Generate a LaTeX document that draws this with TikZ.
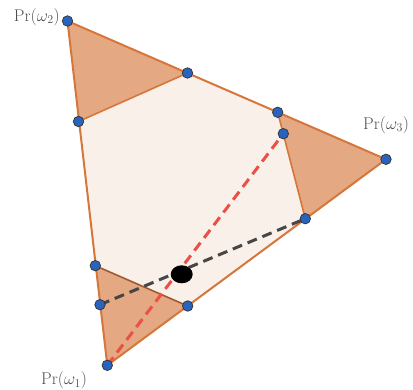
\documentclass[tikz,border=0pt]{standalone}
\usetikzlibrary{calc}
\definecolor{edgeor}{RGB}{214,118,58}
\definecolor{edgedk}{RGB}{160,90,50}
\definecolor{trifill}{RGB}{228,168,130}
\definecolor{hexfill}{RGB}{249,240,234}
\definecolor{dotblue}{RGB}{40,100,190}
\definecolor{reddash}{RGB}{235,80,70}
\definecolor{blackdash}{RGB}{70,70,70}
\definecolor{labgray}{RGB}{80,80,80}
\tikzset{
  pt/.style={circle,fill=dotblue,draw=black!80,line width=0.7pt,minimum size=10.5pt,inner sep=0pt},
  outeredge/.style={draw=edgeor,line width=2pt,line join=round},
  inneredge/.style={draw=edgeor,line width=1.6pt},
  dashline/.style={line width=3pt,dash pattern=on 10pt off 6pt},
  lab/.style={text=labgray,font=\fontsize{17}{20}\selectfont,inner sep=0pt}
}
\begin{document}
\begin{tikzpicture}[x=1pt,y=-1pt]
\useasboundingbox (0,0) rectangle (413,390);
% points
\coordinate (V1) at (107.3,365.3);
\coordinate (V2) at (67.5,21);
\coordinate (V3) at (386,159.3);
\coordinate (A) at (187.5,73);
\coordinate (B) at (78.5,121.5);
\coordinate (C) at (277.7,112.3);
\coordinate (D) at (283.3,133.7);
\coordinate (E) at (305.3,218.7);
\coordinate (F) at (187.7,306);
\coordinate (G) at (95.3,265.7);
\coordinate (H) at (100,304.7);
% fills
\fill[hexfill] (B) -- (A) -- (C) -- (E) -- (F) -- (G) -- cycle;
\fill[trifill] (V2) -- (A) -- (B) -- cycle;
\fill[trifill] (C) -- (V3) -- (E) -- cycle;
\fill[trifill] (V1) -- (G) -- (F) -- cycle;
% edges
\draw[inneredge] (A) -- (B);
\draw[inneredge] (C) -- (E);
\draw[draw=edgedk,line width=1.6pt] (G) -- (F);
\draw[outeredge] (V1) -- (V2) -- (V3) -- cycle;
% dashed lines
\draw[dashline,draw=blackdash] (H) -- (E);
\draw[dashline,draw=reddash] (V1) -- (D);
% black dot
\fill[black] (181.7,274.3) ellipse (11pt and 9pt);
% blue dots
\foreach \p in {V1,V2,V3,A,B,C,D,E,F,G,H} \node[pt] (n\p) at (\p) {};
% labels
\node[lab,anchor=east] (l2) at (60,17) {Pr$(\omega_2)$};
\node[lab,anchor=west] (l3) at (363,125) {Pr$(\omega_3)$};
\node[lab,anchor=west] (l1) at (41,380.5) {Pr$(\omega_1)$};
\end{tikzpicture}
\end{document}
